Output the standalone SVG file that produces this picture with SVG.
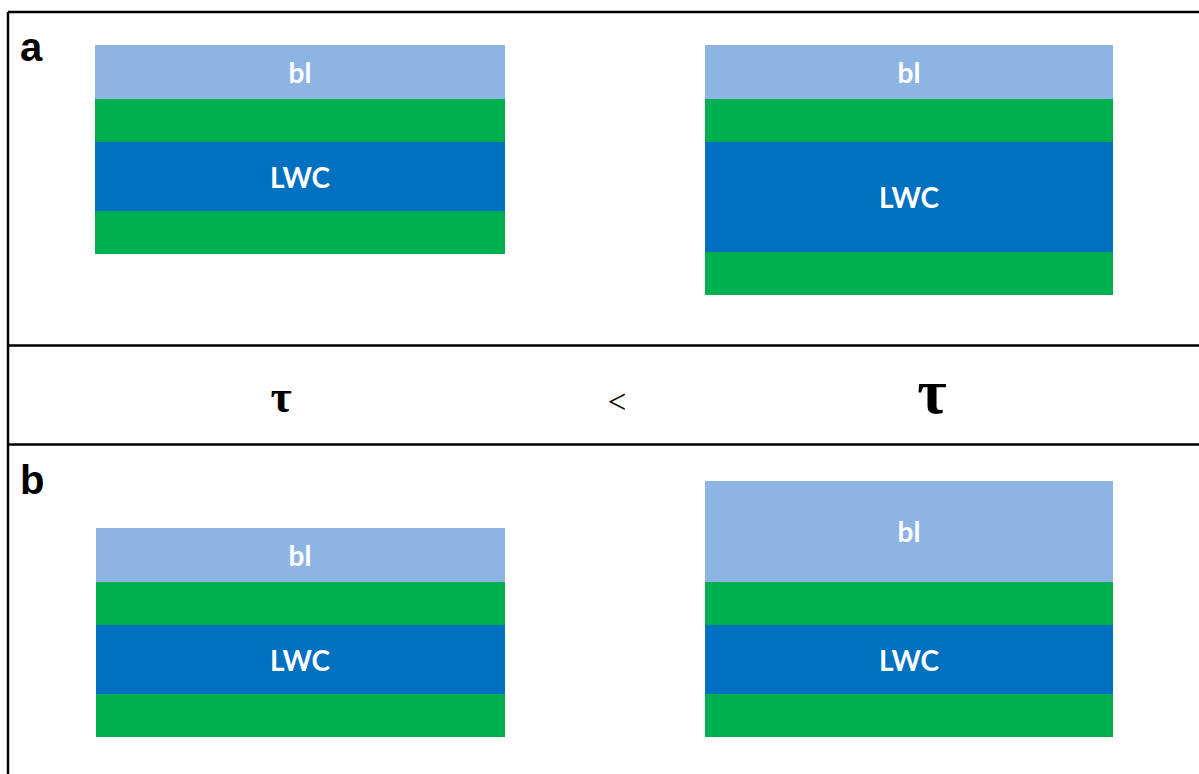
<svg xmlns="http://www.w3.org/2000/svg" width="1199" height="774" viewBox="0 0 1199 774">
<style>
.frame{stroke:#000;stroke-width:2.5;fill:none}
.bl{fill:#8eb4e3}
.gr{fill:#00b050}
.lwc{fill:#0070c0}
.lt{font-family:Lato,"Open Sans",sans-serif;font-weight:bold;font-size:28px;fill:#fff;text-anchor:middle}
.pl{font-family:"Liberation Sans",Arial,sans-serif;font-weight:bold;font-size:40px;fill:#000}
.tau{font-family:"Liberation Serif","Times New Roman",serif;font-weight:bold;fill:#000;text-anchor:middle}
</style>
<rect width="1199" height="774" fill="#fff"/>
<g id="frame">
<path class="frame" d="M8 12H1199M8 12V774M8 345.5H1199M8 444.5H1199"/>
</g>
<g id="labels">
<text class="pl" x="20" y="61">a</text>
<text class="pl" x="20" y="494">b</text>
</g>
<g id="a-left">
<rect class="bl" x="95" y="45" width="410" height="54"/>
<rect class="gr" x="95" y="99" width="410" height="43"/>
<rect class="lwc" x="95" y="142" width="410" height="69"/>
<rect class="gr" x="95" y="211" width="410" height="43"/>
<text class="lt" x="300" y="83">bl</text>
<text class="lt" x="300" y="188">LWC</text>
</g>
<g id="a-right">
<rect class="bl" x="705" y="45" width="408" height="54"/>
<rect class="gr" x="705" y="99" width="408" height="43"/>
<rect class="lwc" x="705" y="142" width="408" height="110"/>
<rect class="gr" x="705" y="252" width="408" height="43"/>
<text class="lt" x="909" y="83">bl</text>
<text class="lt" x="909" y="208">LWC</text>
</g>
<g id="comparison">
<text class="tau" x="281" y="412" font-size="46">τ</text>
<text x="617" y="413" font-family="Liberation Serif,serif" font-size="33" text-anchor="middle" fill="#000">&lt;</text>
<text class="tau" x="932" y="413" font-size="64">τ</text>
</g>
<g id="b-left">
<rect class="bl" x="96" y="528" width="409" height="54"/>
<rect class="gr" x="96" y="582" width="409" height="43"/>
<rect class="lwc" x="96" y="625" width="409" height="69"/>
<rect class="gr" x="96" y="694" width="409" height="43"/>
<text class="lt" x="300" y="566">bl</text>
<text class="lt" x="300" y="671">LWC</text>
</g>
<g id="b-right">
<rect class="bl" x="705" y="481" width="408" height="101"/>
<rect class="gr" x="705" y="582" width="408" height="43"/>
<rect class="lwc" x="705" y="625" width="408" height="69"/>
<rect class="gr" x="705" y="694" width="408" height="43"/>
<text class="lt" x="909" y="542">bl</text>
<text class="lt" x="909" y="671">LWC</text>
</g>
</svg>
